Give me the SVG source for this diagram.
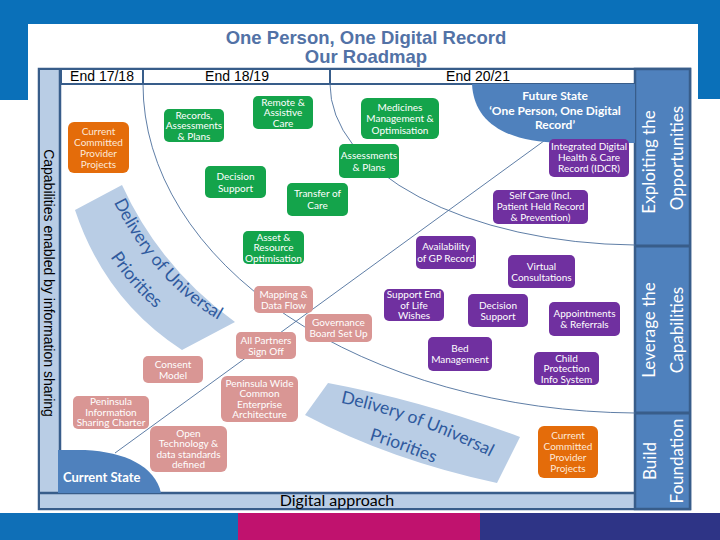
<svg xmlns="http://www.w3.org/2000/svg" width="720" height="540" viewBox="0 0 720 540">
<defs>
<style>
.bg{fill:#0a70b9}
.frame{fill:#ffffff;stroke:#385d8a;stroke-width:2.5}
.lb{fill:#b9cde5}
.dk{stroke:#385d8a;stroke-width:2.5;fill:none}
.hdr{fill:#ffffff;stroke:#385d8a;stroke-width:2}
.col{fill:#4f81bd;stroke:#385d8a;stroke-width:2.5}
.state{fill:#4f81bd}
.arc{fill:none;stroke:#4d6f9c;stroke-width:0.9}
.rib{fill:#b9cde5}
.ribt{font-family:Lato,"Open Sans",sans-serif;font-size:17.5px;fill:#2f5a9e}
.ht{font-family:"Liberation Sans",Arial,sans-serif;font-size:14px;fill:#000}
.title{font-family:"Liberation Sans",Arial,sans-serif;font-size:18.5px;font-weight:bold;fill:#5272a6;text-anchor:middle}
.colt{font-family:Lato,"Open Sans",sans-serif;font-size:17px;fill:#ffffff;text-anchor:middle}
.st{font-family:Lato,"Open Sans",sans-serif;font-weight:bold;fill:#ffffff}
.g{fill:#14a44b}
.o{fill:#e46c0a}
.s{fill:#d99694}
.p{fill:#7030a0}
.nt{font-family:Lato,"Open Sans",sans-serif;font-size:10px;fill:#ffffff;text-anchor:middle}
.ot{fill:#fde9d9}
</style>
<path id="rp1" d="M109,192 Q153,287 228,325"/>
<path id="rp1b" d="M84,209 Q124,299 201,339"/>
<path id="rp2" d="M332,401 Q415,417 498,461"/>
<path id="rp2b" d="M320,428 Q403,444 486,488"/>
</defs>

<!-- background -->
<rect x="0" y="0" width="720" height="540" fill="#ffffff"/>
<rect class="bg" x="0" y="0" width="720" height="24"/>
<rect class="bg" x="0" y="0" width="28" height="100"/>
<rect class="bg" x="698" y="0" width="22" height="99"/>
<rect x="0" y="513" width="238" height="27" fill="#0f6fb7"/>
<rect x="238" y="513" width="242" height="27" fill="#c0126e"/>
<rect x="480" y="513" width="240" height="27" fill="#2e3486"/>

<!-- title -->
<text class="title" x="366" y="44">One Person, One Digital Record</text>
<text class="title" x="366" y="63">Our Roadmap</text>

<!-- frame -->
<g id="frame">
<rect class="frame" x="39" y="69" width="651" height="440"/>
<rect class="lb" x="40" y="70" width="19" height="424"/>
<rect class="lb" x="40" y="493" width="595" height="15"/>
<line class="dk" x1="40" y1="493" x2="635" y2="493"/>
<line class="dk" x1="60" y1="69" x2="60" y2="493"/>
<rect class="hdr" x="61" y="69" width="82" height="15"/>
<rect class="hdr" x="143" y="69" width="187" height="15"/>
<rect class="hdr" x="330" y="69" width="305" height="15"/>
<text class="ht" x="102" y="81" text-anchor="middle">End 17/18</text>
<text class="ht" x="237" y="81" text-anchor="middle">End 18/19</text>
<text class="ht" x="478" y="81" text-anchor="middle">End 20/21</text>
<rect class="col" x="635" y="69" width="55" height="440"/>
<line x1="635" y1="246" x2="690" y2="246" stroke="#385d8a" stroke-width="3"/>
<line x1="635" y1="413" x2="690" y2="413" stroke="#385d8a" stroke-width="3"/>
<text class="ht" transform="translate(44,283) rotate(90)" text-anchor="middle">Capabilities enabled by information sharing</text>
<text class="colt" transform="translate(655,162) rotate(-90)">Exploiting the</text>
<text class="colt" transform="translate(683,158) rotate(-90)">Opportunities</text>
<text class="colt" transform="translate(655,330) rotate(-90)">Leverage the</text>
<text class="colt" transform="translate(683,330) rotate(-90)">Capabilities</text>
<text class="colt" transform="translate(656,461) rotate(-90)">Build</text>
<text class="colt" transform="translate(683,461) rotate(-90)">Foundation</text>
<text x="337" y="506" font-family="Lato,'Open Sans',sans-serif" font-size="16" fill="#000" text-anchor="middle">Digital approach</text>
</g>

<!-- connectors / guide curves -->
<g id="connectors">
<path class="arc" d="M143,84 A497,329 0 0 0 635,413"/>
<path class="arc" d="M330,84 A310,161 0 0 0 635,245"/>
<line class="arc" x1="115" y1="453" x2="548" y2="138"/>
</g>

<!-- states -->
<g id="future-state">
<path class="state" d="M472,84 C474,125 510,142 560,143 L635,143 L635,84 Z"/>
<text class="st" x="555" y="100" font-size="12" text-anchor="middle">Future State</text>
<text class="st" x="555" y="115" font-size="12" text-anchor="middle">‘One Person, One Digital</text>
<text class="st" x="555" y="129" font-size="12" text-anchor="middle">Record’</text>
</g>
<g id="current-state">
<path class="state" d="M58,493 L58,450 L85,450 C125,452 155,466 161,493 Z"/>
<text class="st" x="63" y="482" font-size="13">Current State</text>
</g>

<!-- ribbons -->
<g id="ribbon-1">
<path class="rib" d="M75,210 L122,185 Q160,268 235,322 L182,350 Q105,300 75,210 Z"/>
<text class="ribt" text-anchor="middle"><textPath href="#rp1" startOffset="50%">Delivery of Universal</textPath></text>
<text class="ribt" text-anchor="middle"><textPath href="#rp1b" startOffset="50%">Priorities</textPath></text>
</g>
<g id="ribbon-2">
<path class="rib" d="M328,383 Q420,400 520,437 L497,483 Q390,460 305,415 Z"/>
<text class="ribt" text-anchor="middle"><textPath href="#rp2" startOffset="50%">Delivery of Universal</textPath></text>
<text class="ribt" text-anchor="middle"><textPath href="#rp2b" startOffset="48%">Priorities</textPath></text>
</g>

<!-- nodes -->
<g id="n-current-1"><rect class="o" x="68" y="122" width="61" height="51" rx="6"/>
<text class="nt ot"><tspan x="98.5" y="134.5">Current</tspan><tspan x="98.5" y="145.5">Committed</tspan><tspan x="98.5" y="156.5">Provider</tspan><tspan x="98.5" y="167.5">Projects</tspan></text></g>

<g id="n-records"><rect class="g" x="164" y="109" width="60" height="33" rx="5"/>
<text class="nt"><tspan x="194" y="118.5">Records,</tspan><tspan x="194" y="129">Assessments</tspan><tspan x="194" y="139.5">&amp; Plans</tspan></text></g>

<g id="n-remote"><rect class="g" x="253" y="96" width="60" height="33" rx="5"/>
<text class="nt"><tspan x="283" y="105.5">Remote &amp;</tspan><tspan x="283" y="116">Assistive</tspan><tspan x="283" y="126.5">Care</tspan></text></g>

<g id="n-medicines"><rect class="g" x="361" y="98" width="78" height="41" rx="6"/>
<text class="nt" font-size="10.5"><tspan x="400" y="110.7">Medicines</tspan><tspan x="400" y="122.2">Management &amp;</tspan><tspan x="400" y="133.7">Optimisation</tspan></text></g>

<g id="n-decision-g"><rect class="g" x="205" y="166" width="61" height="32" rx="5"/>
<text class="nt" font-size="10.5"><tspan x="235.5" y="179.7">Decision</tspan><tspan x="235.5" y="191.7">Support</tspan></text></g>

<g id="n-assess"><rect class="g" x="339" y="144" width="60" height="34" rx="5"/>
<text class="nt" font-size="10.5"><tspan x="369" y="158.7">Assessments</tspan><tspan x="369" y="170.7">&amp; Plans</tspan></text></g>

<g id="n-transfer"><rect class="g" x="287" y="183" width="61" height="33" rx="5"/>
<text class="nt" font-size="10.5"><tspan x="317.5" y="197.2">Transfer of</tspan><tspan x="317.5" y="209.2">Care</tspan></text></g>

<g id="n-asset"><rect class="g" x="243" y="231" width="61" height="33" rx="5"/>
<text class="nt"><tspan x="273.5" y="240.5">Asset &amp;</tspan><tspan x="273.5" y="251">Resource</tspan><tspan x="273.5" y="261.5">Optimisation</tspan></text></g>

<g id="n-gp"><rect class="p" x="416" y="236" width="60" height="33" rx="5"/>
<text class="nt" font-size="10.5"><tspan x="446" y="250.2">Availability</tspan><tspan x="446" y="262.2">of GP Record</tspan></text></g>

<g id="n-idcr"><rect class="p" x="549" y="139" width="80" height="38" rx="5"/>
<text class="nt" font-size="9.5"><tspan x="589" y="150.3">Integrated Digital</tspan><tspan x="589" y="161.3">Health &amp; Care</tspan><tspan x="589" y="172.3">Record (IDCR)</tspan></text></g>

<g id="n-selfcare"><rect class="p" x="493" y="190" width="95" height="34" rx="5"/>
<text class="nt" font-size="9"><tspan x="540.5" y="199.2">Self Care (Incl.</tspan><tspan x="540.5" y="210.2">Patient Held Record</tspan><tspan x="540.5" y="221.2">&amp; Prevention)</tspan></text></g>

<g id="n-virtual"><rect class="p" x="508" y="255" width="67" height="33" rx="5"/>
<text class="nt"><tspan x="541.5" y="269.5">Virtual</tspan><tspan x="541.5" y="280.5">Consultations</tspan></text></g>

<g id="n-eol"><rect class="p" x="384" y="289" width="60" height="32" rx="5"/>
<text class="nt"><tspan x="414" y="298">Support End</tspan><tspan x="414" y="308.5">of Life</tspan><tspan x="414" y="319">Wishes</tspan></text></g>

<g id="n-decision-p"><rect class="p" x="468" y="294" width="60" height="33" rx="5"/>
<text class="nt"><tspan x="498" y="308.5">Decision</tspan><tspan x="498" y="319.5">Support</tspan></text></g>

<g id="n-appts"><rect class="p" x="549" y="302" width="71" height="34" rx="5"/>
<text class="nt"><tspan x="584.5" y="317">Appointments</tspan><tspan x="584.5" y="328">&amp; Referrals</tspan></text></g>

<g id="n-bed"><rect class="p" x="428" y="337" width="64" height="34" rx="5"/>
<text class="nt"><tspan x="460" y="352">Bed</tspan><tspan x="460" y="363">Management</tspan></text></g>

<g id="n-child"><rect class="p" x="534" y="352" width="65" height="33" rx="5"/>
<text class="nt"><tspan x="566.5" y="361.5">Child</tspan><tspan x="566.5" y="372">Protection</tspan><tspan x="566.5" y="382.5">Info System</tspan></text></g>

<g id="n-mapping"><rect class="s" x="254" y="286" width="59" height="27" rx="5"/>
<text class="nt"><tspan x="283.5" y="297.5">Mapping &amp;</tspan><tspan x="283.5" y="308.5">Data Flow</tspan></text></g>

<g id="n-governance"><rect class="s" x="305" y="314" width="67" height="28" rx="5"/>
<text class="nt"><tspan x="338.5" y="326">Governance</tspan><tspan x="338.5" y="337">Board Set Up</tspan></text></g>

<g id="n-partners"><rect class="s" x="236" y="332" width="60" height="27" rx="5"/>
<text class="nt"><tspan x="266" y="343.5">All Partners</tspan><tspan x="266" y="354.5">Sign Off</tspan></text></g>

<g id="n-consent"><rect class="s" x="143" y="356" width="60" height="27" rx="5"/>
<text class="nt"><tspan x="173" y="367.5">Consent</tspan><tspan x="173" y="378.5">Model</tspan></text></g>

<g id="n-peninsula-wide"><rect class="s" x="221" y="376" width="77" height="46" rx="6"/>
<text class="nt" font-size="9.5"><tspan x="259.5" y="386.6">Peninsula Wide</tspan><tspan x="259.5" y="397.1">Common</tspan><tspan x="259.5" y="407.6">Enterprise</tspan><tspan x="259.5" y="418.1">Architecture</tspan></text></g>

<g id="n-peninsula-info"><rect class="s" x="73" y="396" width="76" height="33" rx="5"/>
<text class="nt" font-size="9.5"><tspan x="111" y="405.3">Peninsula</tspan><tspan x="111" y="415.8">Information</tspan><tspan x="111" y="426.3">Sharing Charter</tspan></text></g>

<g id="n-open-tech"><rect class="s" x="150" y="426" width="77" height="46" rx="6"/>
<text class="nt" font-size="9.5"><tspan x="188.5" y="436.6">Open</tspan><tspan x="188.5" y="447.1">Technology &amp;</tspan><tspan x="188.5" y="457.6">data standards</tspan><tspan x="188.5" y="468.1">defined</tspan></text></g>

<g id="n-current-2"><rect class="o" x="538" y="426" width="60" height="52" rx="6"/>
<text class="nt ot"><tspan x="568" y="439">Current</tspan><tspan x="568" y="450">Committed</tspan><tspan x="568" y="461">Provider</tspan><tspan x="568" y="472">Projects</tspan></text></g>
</svg>
